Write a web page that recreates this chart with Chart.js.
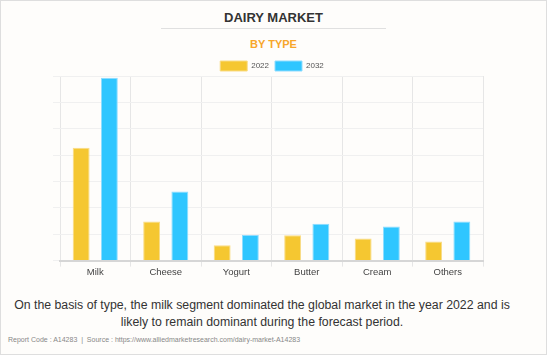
<!DOCTYPE html>
<html>
<head>
<meta charset="utf-8">
<script src="https://cdn.jsdelivr.net/npm/chart.js"></script>
<style>
  html, body { margin: 0; padding: 0; }
  body { width: 547px; height: 355px; position: relative; overflow: hidden; background: #fefdfb; font-family: "Liberation Sans", Arial, sans-serif; }
  #frame { position: absolute; left: 0; top: 0; width: 547px; height: 355px; box-sizing: border-box; border: 1px solid #dedede; pointer-events: none; }
  #title { position: absolute; left: 0; top: 9px; width: 547px; text-align: center; font-weight: bold; font-size: 13px; line-height: 18px; color: #333; }
  #rule { position: absolute; left: 161px; top: 28px; width: 225px; height: 1px; background: #e0e0e0; }
  #subtitle { position: absolute; left: 0; top: 37px; width: 547px; text-align: center; font-weight: bold; font-size: 11px; line-height: 14px; color: #f7a62b; }
  #chartbox { position: absolute; left: 0; top: 50px; width: 547px; height: 230px; }
  #note { position: absolute; left: 0; top: 297px; width: 524px; text-align: center; font-size: 12.3px; line-height: 17px; color: #333; }
  #footer { position: absolute; left: 8px; top: 335px; font-size: 7px; line-height: 10px; color: #888; white-space: nowrap; }
</style>
</head>
<body>
<div id="title">DAIRY MARKET</div>
<div id="rule"></div>
<div id="subtitle">BY TYPE</div>
<div id="chartbox"><canvas id="c"></canvas></div>
<div id="note">On the basis of type, the milk segment dominated the global market in the year 2022 and is likely to remain dominant during the forecast period.</div>
<div id="footer">Report Code : A14283 &nbsp;|&nbsp; Source : https://www.alliedmarketresearch.com/dairy-market-A14283</div>
<div id="frame"></div>
<script>
const categories = ["Milk", "Cheese", "Yogurt", "Butter", "Cream", "Others"];
const seriesNames = ["2022", "2032"];
const values2022 = [4.28, 1.48, 0.58, 0.96, 0.84, 0.72];
const values2032 = [6.93, 2.62, 0.97, 1.40, 1.29, 1.48];
const yTicks = [0, 1, 2, 3, 4, 5, 6, 7];

const legendNudge = {
  id: 'legendNudge',
  afterLayout(chart) {
    if (chart.legend) { chart.legend.left += 4; chart.legend.right += 4; }
  }
};

new Chart(document.getElementById('c'), {
  type: 'bar',
  data: {
    labels: categories,
    datasets: [
      { label: seriesNames[0], data: values2022, backgroundColor: '#f5c731', borderColor: '#f9dc86', borderWidth: 1,
        categoryPercentage: 0.8, barPercentage: 0.6 },
      { label: seriesNames[1], data: values2032, backgroundColor: '#2fc6ff', borderColor: '#8fdcff', borderWidth: 1,
        categoryPercentage: 0.8, barPercentage: 0.6 }
    ]
  },
  plugins: [legendNudge],
  options: {
    responsive: true,
    maintainAspectRatio: false,
    animation: false,
    layout: { padding: { left: 53, right: 64, top: 5, bottom: 2 } },
    plugins: {
      legend: {
        position: 'top',
        maxHeight: 21,
        labels: { boxWidth: 27, boxHeight: 10, padding: 6, color: '#555', font: { family: 'Liberation Sans', size: 8 } }
      },
      tooltip: { enabled: false }
    },
    scales: {
      x: {
        grid: { color: '#e6e6e6', tickLength: 6, offset: true },
        border: { color: '#d6d6d6', width: 2 },
        ticks: { color: '#444', padding: 0, font: { family: 'Liberation Sans', size: 9.5 } }
      },
      y: {
        min: yTicks[0],
        max: yTicks[yTicks.length - 1],
        afterBuildTicks: (axis) => { axis.ticks = yTicks.map(v => ({ value: v })); },
        grid: { color: '#f0f0f0', tickLength: 7 },
        border: { display: false },
        ticks: { display: false }
      }
    }
  }
});
</script>
</body>
</html>
